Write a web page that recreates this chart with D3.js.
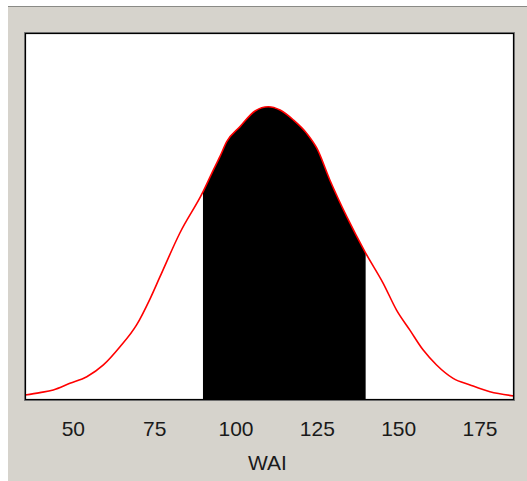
<!DOCTYPE html>
<html>
<head>
<meta charset="utf-8">
<script src="https://cdn.jsdelivr.net/npm/d3@7"></script>
<style>
  html, body { margin: 0; padding: 0; background: #ffffff; }
  svg { display: block; }
</style>
</head>
<body>
<svg id="chart" width="527" height="481"></svg>
<script>
// WAI values (x) and curve density (y)
const waiValues = [35.3, 39.9, 44.0, 49.1, 54.3, 59.4, 64.5, 69.6, 73.7, 76.8, 82.9, 90.0, 92.7, 95.2, 97.3, 101.4, 106.0, 110.1, 113.7, 117.8, 121.9, 125.0, 129.0, 134.2, 140.0, 145.4, 149.5, 153.6, 157.7, 161.8, 166.9, 172.1, 178.2, 185.6];
const density   = [0.00027, 0.00040, 0.00055, 0.00091, 0.00127, 0.00191, 0.00290, 0.00409, 0.00550, 0.00672, 0.00910, 0.01134, 0.01235, 0.01326, 0.01408, 0.01490, 0.01575, 0.01598, 0.01580, 0.01526, 0.01453, 0.01372, 0.01199, 0.00999, 0.00801, 0.00636, 0.00490, 0.00381, 0.00272, 0.00191, 0.00118, 0.00082, 0.00045, 0.00022];
const tickValues = [50, 75, 100, 125, 150, 175];
const shadeRange = [90, 140];
const xTitle = "WAI";

const svg = d3.select("#chart");
const W = 527, H = 481;
const plot = { left: 25, right: 514, top: 33, bottom: 400 };

// gray panel
svg.append("rect").attr("x", 8).attr("y", 6).attr("width", W - 8).attr("height", H - 6).attr("fill", "#d6d3cc");
svg.append("line").attr("x1", 8).attr("x2", W).attr("y1", 6.5).attr("y2", 6.5).attr("stroke", "#8a8a86").attr("stroke-width", 1);

const x = d3.scaleLinear().domain([35.3, 185.6]).range([plot.left, plot.right]);
const y = d3.scaleLinear().domain([0, 0.02]).range([plot.bottom, plot.top]);

// plot background
svg.append("rect").attr("x", plot.left).attr("y", plot.top)
  .attr("width", plot.right - plot.left).attr("height", plot.bottom - plot.top).attr("fill", "#ffffff");

svg.append("clipPath").attr("id", "clip").append("rect")
  .attr("x", plot.left).attr("y", plot.top)
  .attr("width", plot.right - plot.left).attr("height", plot.bottom - plot.top);

const data = waiValues.map((v, i) => ({ x: v, y: density[i] }));
const g = svg.append("g").attr("clip-path", "url(#clip)");

const shaded = data.filter(d => d.x >= shadeRange[0] && d.x <= shadeRange[1]);
g.append("path").datum(shaded)
  .attr("fill", "#000000")
  .attr("d", d3.area().curve(d3.curveMonotoneX).x(d => x(d.x)).y0(y(0)).y1(d => y(d.y)));

g.append("path").datum(data)
  .attr("fill", "none").attr("stroke", "#ff0000").attr("stroke-width", 1.6)
  .attr("d", d3.line().curve(d3.curveMonotoneX).x(d => x(d.x)).y(d => y(d.y)));

// frame
svg.append("rect").attr("x", plot.left - 0.5).attr("y", plot.top - 0.5)
  .attr("width", plot.right - plot.left + 1).attr("height", plot.bottom - plot.top + 1)
  .attr("fill", "none").attr("stroke", "#7a7a7a").attr("stroke-width", 1);
svg.append("rect").attr("x", plot.left + 0.5).attr("y", plot.top + 0.5)
  .attr("width", plot.right - plot.left - 1).attr("height", plot.bottom - plot.top - 1)
  .attr("fill", "none").attr("stroke", "#000000").attr("stroke-width", 1.2);

// axis
const axis = d3.axisBottom(x).tickValues(tickValues).tickSize(0).tickPadding(0).tickFormat(d3.format("d"));
const ax = svg.append("g").attr("transform", `translate(0,${plot.bottom})`).call(axis);
ax.select(".domain").remove();
ax.selectAll("text")
  .attr("dy", null).attr("y", 36)
  .attr("fill", "#1a1a1a")
  .style("font-family", "'Liberation Sans', Arial, sans-serif")
  .style("font-size", "21px");

svg.append("text").attr("x", (plot.left + plot.right) / 2 - 2).attr("y", 470)
  .attr("text-anchor", "middle").attr("fill", "#1a1a1a")
  .style("font-family", "'Liberation Sans', Arial, sans-serif")
  .style("font-size", "21px")
  .text(xTitle);
</script>
</body>
</html>
